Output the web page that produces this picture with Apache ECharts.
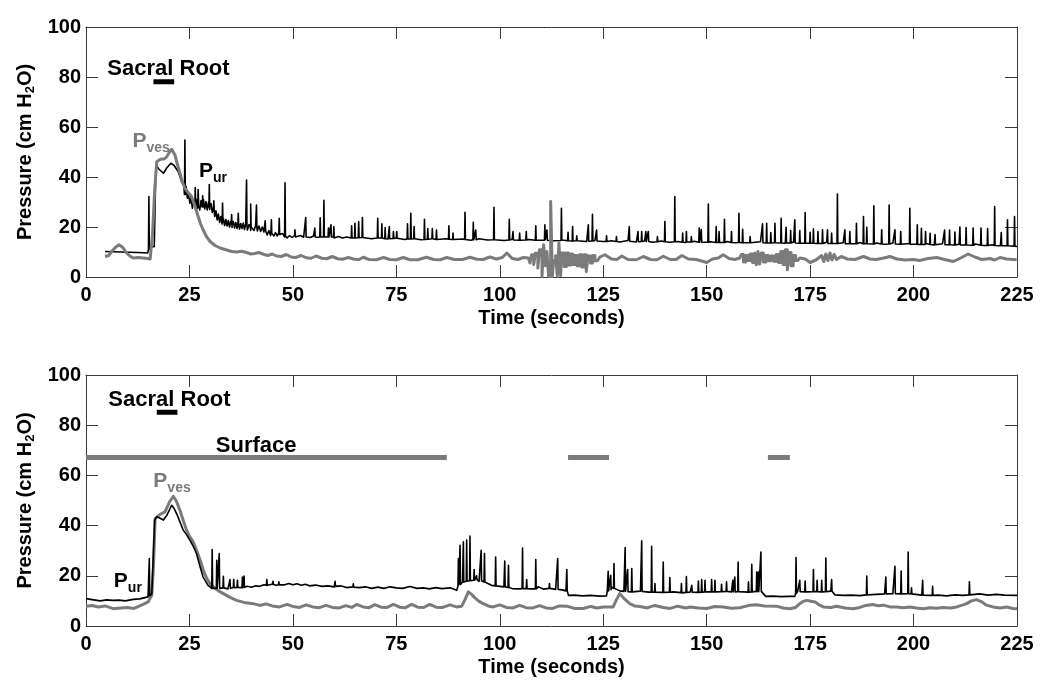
<!DOCTYPE html>
<html>
<head>
<meta charset="utf-8">
<script src="https://cdn.jsdelivr.net/npm/echarts@6/dist/echarts.min.js"></script>
<style>
html,body{margin:0;padding:0;background:#fff;}
#chart{width:1050px;height:686px;}
</style>
</head>
<body>
<div id="chart"></div>
<script>
// ---------------- DATA ----------------
const xTickValues = [0, 25, 50, 75, 100, 125, 150, 175, 200, 225];
const yTickValues = [0, 20, 40, 60, 80, 100];

// Top panel: urethral pressure baseline [time s, cm H2O]
const topPurBase = [[4.6,10.2],[6.5,10.1],[8.5,10.0],[10.5,9.9],[12.5,9.8],[14.9,9.6],[15.4,12.1],[16.5,12.1],[16.9,44.8],[17.6,43.2],[18.7,41.5],[19.5,43.6],[20.5,45.5],[21.3,44.6],[22.3,42.1],[23.1,38.1],[23.6,36.8],
[24.2,36.2],[24.5,31.5],[24.8,33],[25.1,29.5],[25.4,31.8],[25.7,27.5],[26.0,30.5],[26.3,28],[26.6,31.2],[26.9,27.4],[27.2,30.2],[27.5,26.8],[27.8,30.6],[28.1,27.6],[28.4,31],[28.7,27.2],[29.0,30.2],[29.3,26.8],[29.6,29.8],[29.9,27],[30.2,29.4],[30.5,25.8],[30.8,28],[31.1,24.2],[31.4,26.5],[31.7,22.8],[32.0,25.2],[32.3,21.8],[32.6,24.2],[32.9,21.2],[33.2,23.4],[33.5,20.6],[33.8,23],[34.1,20.4],[34.4,22.6],[34.7,20],[35.0,22.4],[35.3,19.8],[35.6,22.2],[35.9,19.6],[36.2,21.8],[36.5,19.4],[36.8,21.6],[37.1,19.2],[37.4,21.4],[37.7,19.4],[38.0,21.6],[38.3,19],[38.6,21.2],[39.0,18.8],[39.4,21],[39.8,18.6],[40.2,20.8],[40.6,18.6],[41.0,20.6],[41.4,18.4],[41.8,20.4],[42.2,18.2],[42.6,20],[43.0,18],[43.4,19.4],[43.8,16.8],[44.2,18.6],[44.6,16.6],[45.0,18.2],[45.4,16.4],[45.8,17.8],[46.2,16.4],[46.6,17.6],[47.0,16.2],[47.5,17.4],[48.0,16],[48.6,15.6],[49.2,16.6],[49.8,15.8],[50.4,16.6],[51.0,15.8],[51.8,16.6],[52.6,15.9],[53.4,16.5],[54.2,15.8],[55.0,16.4],[56.0,15.9],[57.0,16.5],[58.0,15.7],[59.0,16.3],[60.0,15.6],[61.0,16.2],[62.0,15.6],[63.0,16.0],
[65,15.6],[67,15.9],[69,15.3],[71,15.7],[73,15.2],[75,15.6],[77,15.0],[79,15.5],[81,14.9],[83,15.4],[85,14.8],[87,15.3],[89,14.9],[91,15.2],[93,14.7],[95,15.3],[97,14.8],[99,15.1],[101,14.6],[103,15.1],[105,14.7],[107,15.0],[109,14.5],[111,15.0],[113,14.5],[115,14.8],[117,14.3],[119,14.8],[121,14.2],[123,14.6],[125,14.2],[127,14.5],[129,14.0],[131,14.6],[133,14.0],[135,14.4],[137,13.9],[139,14.4],[141,13.9],[143,14.2],[145,13.8],[147,14.3],[149,13.8],[151,14.1],[153,13.7],[155,14.2],[157,13.7],[159,14.0],[161,13.6],[163,14.1],[165,13.6],[167,13.9],[169,13.5],[171,14.0],[173,13.5],[175,13.8],[177,13.4],[179,13.9],[181,13.4],[183,13.7],[185,13.2],[187,13.8],[189,13.2],[191,13.6],[193,13.1],[195,13.6],[197,13.1],[199,13.4],[201,13.0],[203,13.4],[205,12.8],[207,13.3],[209,12.8],[211,13.1],[213,12.7],[215,13.2],[217,12.6],[219,12.9],[221,12.5],[223,12.8],[225,12.2]];

// Top panel: urethral pressure spikes [time s, peak, foot]
const topPurSpikes = [[15.2,32.2,11],[23.9,54.8,33],[26.4,35.8,29],[27.1,35,28.5],[28.2,32.5,28],[29.8,37,28],[30.9,30.5,26],[33.0,29.6,22],[35.2,25,21],[36.8,25.5,21],[38.8,38.8,20.5],[39.8,29.2,20],[41.2,28.8,19.8],[43.3,22.5,18.5],[44.8,22.9,17.5],[46.7,23.5,17],[48.1,37.7,16.5],[50.5,18.9,16],[53.1,23.8,16],[55.3,19.6,16],[56.6,23.7,16],[57.5,30.7,16],[58.6,19.6,16],[59.2,20.9,16],[59.9,20.2,16],
[64.2,20.5,15.6],[65.0,21.5,15.6],[65.9,22.2,15.7],[66.8,23.8,15.8],[70.5,23.5,15.6],[71.5,21.3,15.6],[72.3,19.8,15.3],[73.3,20.2,15.3],[74.3,18.2,15.4],[75.1,18.2,15.5],[77.7,21.3,15.2],[78.5,25.5,15.2],[79.3,20.2,15.3],[81.8,23.1,15.0],[82.6,19.4,15.1],[83.7,19.4,15.3],[84.7,18.8,15.0],[87.7,20.5,15.1],[88.7,17.6,15.0],[91.6,25.9,15.0],[93.6,21.9,14.9],[94.2,18.8,14.9],[98.6,27.9,14.9],[102.3,23.1,14.8],[103.2,18.2,14.8],[104.8,17.6,14.7],[106.4,18.2,14.8],[108.7,20.5,14.7],[110.9,20.9,14.7],[111.4,18.8,14.7],[114.9,27.5,14.6],[116.5,17.9,14.5],[117.6,20.2,14.4],[118.6,16.5,14.5],[121.4,20.9,14.3],[122.4,25.1,14.4],[123.4,18.8,14.4],[125.8,16.5,14.2],[128.2,16.2,14.2],
[131.3,20.2,14.3],[133.4,18.2,14.1],[134.3,18.2,14.2],[135.3,18.2,14.2],[135.9,18.2,14.2],[138.1,16.2,14.1],[139.9,22.2,14.1],[142.3,32.2,14.1],[144.2,17.6,13.9],[145.1,18.2,14.0],[146.3,16.2,14.0],[148.2,19.6,13.9],[148.7,19.0,13.9],[150.4,29.2,13.9],[152.3,20.2,13.8],[153.0,18.2,13.8],[154.3,23.1,13.8],[156.0,18.2,13.8],[157.8,25.5,13.8],[158.7,19.1,13.7],[160.5,16.2,13.7],[163.5,21.3,13.7],[164.5,21.5,13.6],[165.5,17.8,13.6],[166.5,21.5,13.7],[168.0,23.5,13.6],[169.2,19.9,13.6],[170.3,18.6,13.6],[171.3,22.9,13.6],[172.5,18.6,13.5],[173.8,25.8,13.5],[175.0,17.9,13.5],[175.8,19.3,13.5],[176.9,18.2,13.4],[178.0,18.9,13.4],[179.2,18.9,13.4],[180.2,17.6,13.4],
[181.6,33.2,13.4],[183.4,18.9,13.3],[184.6,18.2,13.3],[186.2,21.5,13.3],[187.9,24.2,13.3],[188.7,19.9,13.3],[190.4,28.5,13.2],[192.3,18.9,13.2],[194.1,28.8,13.2],[195.5,18.9,13.2],[196.9,18.2,13.1],[199.1,27.5,13.1],[200.9,20.9,13.1],[201.9,19.5,13.0],[202.9,18.2,13.0],[204.0,17.5,13.0],[205.2,17.0,12.9],[207.5,18.8,12.9],[208.7,18.8,12.9],[210.0,18.0,12.8],[211.2,20.0,12.8],[212.7,19.8,12.8],[214.4,19.6,12.7],[216.3,19.6,12.7],[217.9,19.4,12.6],[219.6,28.2,12.6],[221.2,17.8,12.5],[222.7,22.9,12.5],[224.4,24.2,12.3]];

// Top panel: vesical pressure [time s, cm H2O]
const topPves = [[4.6,8.2],[5.5,8.6],[6.2,10.2],[7.2,12.0],[8.0,12.9],[8.9,11.8],[9.8,9.6],[10.6,8.4],[11.4,7.6],[12.6,7.8],[13.8,7.6],[15.0,7.4],[15.5,7.2],[16.1,17.6],[16.6,35.0],[17.1,46.1],[18.0,47.1],[19.0,47.3],[19.5,48.1],[20.2,50.0],[20.7,51.1],[21.1,50.5],[21.5,48.8],[22.1,45.0],[22.7,41.5],[23.3,38.0],[23.9,35.5],[24.7,33.8],[25.5,32.2],[26.3,28.5],[27.1,24.2],[27.7,21.2],[28.3,18.9],[29.1,16.2],[30.0,14.2],[31.2,12.6],[32.4,11.6],[33.8,10.9],[35.2,10.2],[36.4,10.0],[37.6,10.3],[38.8,9.8],[39.8,9.2],[40.8,9.4],[41.8,9.8],[42.9,9.1],[43.9,8.6],[45.0,9.2],[46.0,8.4],[47.2,8.2],[48.4,9.0],[49.6,8.0],[50.7,7.8],[52.0,8.6],[53.2,7.7],[54.4,7.5],[55.6,8.4],[57.0,7.5],[58.2,7.3],[59.5,8.2],[60.8,7.3],[62.0,7.1],[63.4,7.8],[64.8,7.1],[66.0,7.0],[67.0,7.9],[68.4,7.0],[70.2,6.9],[71.9,7.8],[73.4,7.0],[75.0,6.9],[76.7,7.8],[78.3,6.9],[80.2,6.9],[82.3,7.9],[84.0,7.0],[85.6,6.9],[87.2,7.8],[89.0,7.0],[91.0,7.0],[92.8,7.9],[94.5,7.1],[96.0,7.0],[97.6,8.0],[99.2,7.2],[100.6,7.8],[101.7,9.6],[103.0,7.4],[104.4,7.0],[105.7,7.8],
[106.9,7.6],[107.3,7.6],[107.3,5.6],[107.7,5.6],[107.7,8.9],[108.2,8.9],[108.2,5.0],[108.6,5.0],[108.6,9.5],[109.2,9.5],[109.2,3.6],[109.6,3.6],[109.6,10.9],[110.2,10.9],[110.2,0.2],[110.6,0.2],[110.6,12.9],[111.0,12.9],[111.0,4.5],[111.4,4.5],[111.4,10.2],[111.8,10.2],[111.8,0.2],[112.3,0.2],[112.3,30.2],[112.7,30.2],[112.7,0.2],[113.0,0.2],[113.0,6.5],[113.5,6.5],[113.5,8.5],[113.9,8.5],[113.9,0.3],[114.3,0.3],[114.3,13.6],[114.7,13.6],[114.7,0.5],[115.0,0.5],[115.0,9.6],[115.6,9.6],[115.6,4.2],[116.1,4.2],[116.1,9.6],[116.6,9.6],[116.6,4.8],[117.1,4.8],[117.1,9.2],[117.6,9.2],[117.6,5.0],[118.1,5.0],[118.1,8.6],[118.7,8.6],[118.7,4.5],[119.2,4.5],[119.2,8.9],[119.8,8.9],[119.8,4.0],[120.3,4.0],[120.3,8.9],[120.9,8.9],[120.9,2.2],[121.3,2.2],[121.3,8.4],[121.9,8.4],[121.9,5.6],[122.4,5.6],[122.4,8.6],[123.0,8.6],[123.0,6.5],[123.6,6.5],[124.2,8.0],
[125.4,8.9],[127.0,7.2],[128.3,7.0],[129.5,8.4],[131.0,7.0],[133.0,6.9],[134.7,8.2],[136.4,7.0],[138.0,6.9],[139.5,8.3],[141.2,7.0],[142.6,7.0],[144.0,8.6],[145.6,7.2],[147.5,7.0],[149.2,6.2],[150.0,5.8],[151.4,7.2],[152.8,7.6],[154.0,8.9],[155.4,7.4],[156.8,7.0],[158.0,7.6],
[158.4,7.6],[158.4,9.0],[158.9,9.0],[158.9,6.0],[159.4,6.0],[159.4,8.6],[160.0,8.6],[160.0,6.6],[160.5,6.6],[160.5,9.2],[161.1,9.2],[161.1,5.8],[161.6,5.8],[161.6,9.6],[162.0,9.6],[162.0,4.9],[162.4,4.9],[162.4,10.2],[162.8,10.2],[162.8,5.2],[163.2,5.2],[163.2,9.6],[163.7,9.6],[163.7,6.0],[164.3,6.0],[164.3,8.6],[164.9,8.6],[164.9,6.5],[165.5,6.5],[165.5,8.4],[166.2,8.4],[166.2,6.3],[166.8,6.3],[166.8,9.0],[167.4,9.0],[167.4,5.8],[167.9,5.8],[167.9,10.2],[168.5,10.2],[168.5,5.0],[169.0,5.0],[169.0,10.9],[169.5,10.9],[169.5,2.9],[169.9,2.9],[169.9,9.8],[170.4,9.8],[170.4,4.5],[170.9,4.5],[170.9,8.6],[171.5,8.6],[171.5,6.6],[172.0,6.6],[172.5,7.6],
[173.8,7.2],[175.0,5.8],[176.4,6.8],[177.8,8.6],[178.3,6.2],[178.8,9.2],[179.3,6.6],[179.8,9.6],[180.3,6.8],[180.8,9.0],[181.4,7.0],[182.5,8.2],[184.0,7.2],[185.8,7.0],[187.9,8.2],[189.5,7.2],[191.0,7.0],[192.8,7.6],[194.3,8.2],[196.0,7.2],[198.0,6.8],[199.9,7.0],[201.5,6.6],[203.5,7.4],[205.6,7.8],[207.5,7.0],[209.6,6.2],[211.4,7.6],[213.2,9.2],[214.8,8.0],[216.5,7.0],[218.5,7.4],[219.6,6.8],[220.9,7.8],[222.5,7.2],[224.9,6.9]];

// Bottom panel: urethral pressure baseline
const bottomPurBase = [[0,10.9],[1.5,10.5],[3.4,10.0],[5.0,10.4],[6.5,10.2],[8.0,10.3],[9.5,10.0],[11.4,10.6],[13.0,10.8],[15.0,11.6],[15.9,12.9],[16.3,13.2],[16.6,42.2],[17.1,43.5],[17.8,43.0],[18.7,42.2],[19.5,44.0],[20.7,48.1],[21.3,46.8],[21.9,44.8],[22.7,41.5],[23.5,38.2],[24.3,36.4],[25.1,34.2],[25.9,31.8],[26.7,28.9],[27.5,24.0],[28.3,19.5],[29.5,16.2],[30.8,14.9],[32.5,15.0],[33.6,15.4],[34.3,14.8],[35.2,15.6],[36.0,15.0],[37.0,15.7],[38.0,15.2],[39.0,15.8],[40.0,15.4],[41.0,16.0],[42.0,15.8],[43.0,16.4],[44.0,16.0],[45.0,16.6],[46.0,16.2],[47.0,16.8],[48.0,16.4],[49.0,16.9],[50.0,16.4],[51.0,16.8],[52.0,16.2],[53.0,16.6],[54.0,16.0],[55.5,16.3],[57.0,15.8],[58.5,16.0],[60.0,15.6],[61.5,16.0],[63.0,15.3],[64.5,15.6],[66.0,15.3],[67.5,15.6],[69.0,15.0],[70.5,15.5],[72.0,15.0],[73.5,15.6],[75.0,15.2],[76.5,15.0],[78.3,15.7],[80.0,15.0],[81.5,15.2],[83.0,14.8],[84.5,15.3],[86.0,14.9],[88.0,15.2],[89.6,14.2],[90.1,16.5],[91.0,17.5],[92.5,18.0],[94.0,18.5],[95.0,17.8],[96.5,17.0],[98.0,16.2],[99.5,16.0],[101.0,15.6],[103.0,14.9],[104.5,14.8],[106.0,15.0],[107.5,14.8],[109.3,15.6],[110.5,14.7],[112.0,15.2],[113.5,14.6],[115.0,14.4],[116.0,14.0],[116.6,12.2],[118.0,12.3],[120.0,12.0],[122.0,12.2],[124.0,11.9],[125.8,12.0],[126.0,14.5],[127.0,15.5],[128.0,14.8],[129.0,14.0],[130.0,13.8],[132.0,13.6],[134.0,13.9],[136.0,13.5],[138.0,13.6],[140.0,13.3],[142.0,13.6],[144.0,13.2],[146.0,13.5],[148.0,13.4],[150.0,13.8],[152.0,13.5],[154.0,13.8],[156.0,13.6],[158.0,13.7],[160.0,13.5],[162.0,13.8],[163.5,14.2],[164.3,11.8],[166.0,11.9],[168.0,11.7],[170.0,11.8],[171.3,11.8],[172.0,13.8],[174.0,13.6],[176.0,13.8],[178.0,13.6],[180.0,13.9],[181.0,12.4],[183.0,12.2],[185.0,12.3],[187.0,12.1],[189.0,12.4],[191.0,12.6],[193.0,12.8],[195.0,12.9],[197.0,12.8],[199.0,12.9],[200.5,12.6],[202.0,12.3],[204.0,12.2],[206.0,12.3],[208.0,12.0],[210.0,12.4],[212.0,12.2],[214.0,12.5],[216.0,12.8],[218.0,12.3],[220.0,12.6],[222.0,12.3],[225.0,12.2]];

// Bottom panel: urethral pressure spikes [time s, peak, foot]
const bottomPurSpikes = [[15.3,26.9,12],[30.5,30.5,15],[31.6,26.2,15],[32.2,28.9,15],[33.2,19.8,15.2],[34.8,18.5,15],[35.7,18.5,15.3],[36.6,18.2,15.4],[37.8,19.5,15.3],[38.2,19.9,15.4],[43.7,18.5,16.2],[45.2,17.8,16.5],[46.6,17.6,16.4],[60.2,17.8,15.8],[64.6,16.8,15.5],
[90.0,26.9,16.0],[90.4,32.2,16.5],[91.2,33.5,17.5],[92.0,34.2,17.8],[92.8,35.8,18],[93.8,22.5,18.2],[94.4,20,18.5],[95.5,30.2,18],[96.3,28.9,17.5],[99.0,27.5,16.0],[101.2,25.9,15.6],[102.1,24.2,15.3],[105.5,31.1,14.9],[106.5,18.5,14.9],[108.7,26.5,14.8],[112.0,16.9,15.0],[114.0,26.9,14.6],[116.2,22.5,14.0],
[126.2,21.8,14],[126.8,20.2,14.5],[127.6,24.9,15],[130.3,31.3,13.8],[130.9,22.5,13.7],[131.9,22.9,13.6],[134.3,33.9,13.8],[136.7,31.8,13.5],[137.5,16.9,13.5],[139.5,25.5,13.4],[141.1,19.3,13.5],[143.9,16.9,13.3],[145.1,19.7,13.4],[146.4,16.2,13.5],[148.0,17.9,13.4],[148.8,18.5,13.5],[149.6,18.2,13.6],[151.2,18.5,13.6],[152.0,18.2,13.6],[153.6,16.6,13.7],[154.8,17.6,13.8],[156.3,18.2,13.6],[156.8,19.5,13.6],[157.6,25.5,13.7],[160.1,17.6,13.5],[160.9,24.6,13.6],[162.1,21.5,13.7],[162.5,21.5,13.7],[163.1,29.5,13.8],
[171.6,27.3,13.0],[172.5,18.2,13.7],[173.8,17.9,13.6],[175.8,22.5,13.7],[176.7,18.2,13.7],[177.8,18.2,13.6],[178.8,27.1,13.7],[180.2,18.5,13.8],
[188.7,19.9,12.4],[193.3,19.5,12.8],[195.5,23.8,12.9],[197.0,21.9,12.8],[198.7,29.5,12.9],[199.5,15.2,12.8],[202.2,18.2,12.3],[204.6,15.8,12.2],[213.5,17.6,12.4]];

// Bottom panel: vesical pressure
const bottomPves = [[0,7.9],[1.5,8.2],[3.0,7.6],[4.6,8.0],[6.6,6.9],[8.4,7.2],[10.0,7.4],[11.6,7.0],[13.8,8.6],[15.0,9.6],[15.9,12.2],[16.3,23.5],[16.7,42.8],[17.9,44.5],[19.1,45.5],[20.2,49.5],[21.1,51.7],[21.9,49.5],[22.7,46.1],[23.5,42],[24.3,38.2],[25.1,35.5],[25.9,33.5],[26.8,29.8],[27.6,26.2],[28.4,22],[29.2,18.9],[30.0,16.8],[30.8,15.6],[32.0,14.0],[33.2,12.9],[34.8,11.4],[36.4,10.2],[38.2,9.4],[40.4,8.9],[42.0,8.2],[43.5,8.8],[45.0,8.0],[46.8,7.6],[48.6,8.6],[50.0,7.8],[51.6,7.4],[53.2,8.4],[54.8,7.6],[56.4,7.3],[58.0,8.2],[59.6,7.4],[61.2,7.2],[62.8,8.1],[64.2,7.4],[65.4,8.6],[67.0,7.6],[68.4,7.3],[69.8,8.5],[71.3,7.5],[72.8,7.4],[74.3,8.6],[75.8,7.5],[77.2,7.3],[78.7,8.6],[80.2,7.5],[81.6,7.4],[83.1,8.6],[84.6,7.5],[86.2,7.4],[88.0,8.4],[89.5,7.6],[90.8,7.9],[91.6,10.5],[92.4,13.6],[93.2,12.6],[94.0,11.2],[95.0,9.8],[96.0,8.9],[97.2,8.0],[98.4,7.6],[100.0,8.4],[101.6,7.4],[103.2,7.2],[104.8,8.2],[106.4,7.3],[108.0,7.2],[109.6,8.1],[111.2,7.2],[112.8,7.0],[114.4,8.0],[116.2,7.9],[118.0,7.0],[120.2,7.0],[122.0,7.8],[123.5,7.2],[125.0,7.6],[127.4,7.6],[128.2,10.5],[129.0,12.9],[130.0,11.0],[131.4,8.9],[132.6,8.0],[133.9,7.8],[135.6,7.2],[137.5,8.2],[139.5,7.4],[141.2,7.0],[143.0,7.9],[145.0,7.2],[146.0,7.6],[148.0,7.2],[150.0,7.0],[152.0,7.8],[154.0,7.6],[156.0,7.1],[158.0,7.3],[160.5,8.3],[162.0,8.5],[164.0,8.0],[166.9,7.9],[168.5,7.2],[170.1,6.9],[171.5,7.4],[172.5,8.9],[173.3,9.8],[174.2,10.2],[175.2,9.9],[176.2,9.6],[177.2,8.4],[178.2,7.6],[180.0,7.4],[181.4,7.9],[183.5,7.2],[185.4,6.9],[187.0,7.4],[188.5,8.2],[190.1,8.6],[191.5,8.1],[192.7,8.3],[194.3,7.6],[195.9,7.6],[197.5,7.3],[199.1,7.6],[200.7,7.2],[202.3,6.9],[204.0,7.3],[205.5,7.1],[207.2,7.4],[209.0,7.2],[210.4,7.6],[212.0,8.4],[212.8,8.9],[214.0,10.0],[215.2,10.5],[216.5,9.6],[217.6,8.3],[219.2,7.6],[220.9,7.2],[222.5,7.6],[224.0,7.0],[225.0,6.9]];

// Stimulation periods [start s, end s] and the level (cm H2O) at which the bar is drawn
const topSacral = [[16.3, 21.3]];
const topSacralLevel = 78.1;
const bottomSacral = [[17.1, 22.1]];
const bottomSacralLevel = 85.2;
const bottomSurface = [[0, 87.2], [116.5, 126.4], [164.8, 170.1]];
const bottomSurfaceLevel = 67.1;

// ---------------- BUILD ----------------
const FONT = '"Liberation Sans", Arial, Helvetica, sans-serif';
const GRAY = '#7b7b7b';
const AXIS = '#3a3a3a';
const SPIKE_HALF = 0.1; // half width of a spike, seconds

function withSpikes(base, spikes) {
  const pts = base.map(p => p.slice());
  spikes.forEach(([t, peak, foot]) => {
    pts.push([t - SPIKE_HALF, foot], [t, peak], [t + SPIKE_HALF, foot]);
  });
  pts.sort((a, b) => a[0] - b[0]);
  return pts;
}
function bars(periods, level) {
  const out = [];
  periods.forEach(([a, b], i) => {
    if (i > 0) out.push([a - 0.01, null]);
    out.push([a, level], [b, level]);
  });
  return out;
}

const grids = [
  { left: 86, top: 27, width: 931, height: 250 },
  { left: 86, top: 375, width: 931, height: 251 }
];

const axisLineStyle = { show: true, onZero: false, lineStyle: { color: AXIS, width: 1 } };
const tickStyle = { show: true, inside: true, length: 12, lineStyle: { color: AXIS } };

function xAxes(gi) {
  return [
    {
      type: 'value', gridIndex: gi, min: 0, max: 225, interval: 25, position: 'bottom',
      axisLine: axisLineStyle, axisTick: tickStyle,
      axisLabel: { show: true, color: '#000', fontFamily: FONT, fontWeight: 'bold', fontSize: 20, margin: 8 },
      splitLine: { show: false },
      name: 'Time (seconds)', nameLocation: 'middle', nameGap: 31,
      nameTextStyle: { color: '#000', fontFamily: FONT, fontWeight: 'bold', fontSize: 20 }
    },
    {
      type: 'value', gridIndex: gi, min: 0, max: 225, interval: 25, position: 'top',
      axisLine: axisLineStyle, axisTick: tickStyle,
      axisLabel: { show: false }, splitLine: { show: false }
    }
  ];
}
function yAxes(gi) {
  return [
    {
      type: 'value', gridIndex: gi, min: 0, max: 100, interval: 20, position: 'left',
      axisLine: axisLineStyle, axisTick: tickStyle,
      axisLabel: { show: true, color: '#000', fontFamily: FONT, fontWeight: 'bold', fontSize: 20, margin: 5 },
      splitLine: { show: false },
      name: '{a|Pressure (cm H}{b|2}{a|O)}', nameLocation: 'middle', nameGap: 47,
      nameTextStyle: {
        rich: {
          a: { color: '#000', fontFamily: FONT, fontWeight: 'bold', fontSize: 20 },
          b: { color: '#000', fontFamily: FONT, fontWeight: 'bold', fontSize: 13, padding: [10, 0, 0, 0] }
        }
      }
    },
    {
      type: 'value', gridIndex: gi, min: 0, max: 100, interval: 20, position: 'right',
      axisLine: axisLineStyle, axisTick: tickStyle,
      axisLabel: { show: false }, splitLine: { show: false }
    }
  ];
}

const richSub = (color) => ({
  p: { color: color, fontFamily: FONT, fontWeight: 'bold', fontSize: 21, textBorderWidth: 0 },
  s: { color: color, fontFamily: FONT, fontWeight: 'bold', fontSize: 14, padding: [14, 0, 0, 0], textBorderWidth: 0 }
});

function note(t, v, text, opts) {
  return {
    value: [t, v],
    label: Object.assign({
      show: true, formatter: text, position: [0, 0], align: 'left', verticalAlign: 'middle',
      color: '#000', opacity: 1, textBorderWidth: 0, textShadowBlur: 0,
      fontFamily: FONT, fontWeight: 'bold', fontSize: 22
    }, opts || {})
  };
}

const topNotes = [
  note(20.05, 83.2, 'Sacral Root', { align: 'center' }),
  note(11.35, 54.1, '{p|P}{s|ves}', { rich: richSub(GRAY) }),
  note(27.4, 42.1, '{p|P}{s|ur}', { rich: richSub('#000') })
];
const bottomNotes = [
  note(20.3, 90.0, 'Sacral Root', { align: 'center' }),
  note(41.25, 71.7, 'Surface', { align: 'center' }),
  note(16.4, 57.4, '{p|P}{s|ves}', { rich: richSub(GRAY) }),
  note(6.85, 17.6, '{p|P}{s|ur}', { rich: richSub('#000') })
];

function lineSeries(xi, yi, data, color, width, z) {
  return {
    type: 'line', xAxisIndex: xi, yAxisIndex: yi, data: data, showSymbol: false, symbol: 'none',
    connectNulls: false, animation: false, z: z,
    lineStyle: { color: color, width: width, join: 'round', cap: 'butt' }
  };
}
function noteSeries(xi, yi, data) {
  return {
    type: 'scatter', xAxisIndex: xi, yAxisIndex: yi, data: data, symbol: 'circle', symbolSize: 1,
    silent: true, animation: false, z: 20, itemStyle: { color: 'rgba(255,255,255,0)' },
    emphasis: { disabled: true }
  };
}

const option = {
  backgroundColor: '#fff',
  animation: false,
  grid: grids,
  xAxis: xAxes(0).concat(xAxes(1)),
  yAxis: yAxes(0).concat(yAxes(1)),
  series: [
    lineSeries(0, 0, withSpikes(topPurBase, topPurSpikes), '#000', 1.6, 3),
    lineSeries(0, 0, topPves, GRAY, 3, 4),
    lineSeries(0, 0, bars(topSacral, topSacralLevel), '#000', 5, 5),
    noteSeries(0, 0, topNotes),
    lineSeries(2, 2, bottomPves, GRAY, 3, 3),
    lineSeries(2, 2, withSpikes(bottomPurBase, bottomPurSpikes), '#000', 1.6, 4),
    lineSeries(2, 2, bars(bottomSacral, bottomSacralLevel), '#000', 5, 5),
    lineSeries(2, 2, bars(bottomSurface, bottomSurfaceLevel), GRAY, 5, 5),
    noteSeries(2, 2, bottomNotes)
  ]
};

const chart = echarts.init(document.getElementById('chart'), null, { renderer: 'canvas' });
chart.setOption(option);
</script>
</body>
</html>
